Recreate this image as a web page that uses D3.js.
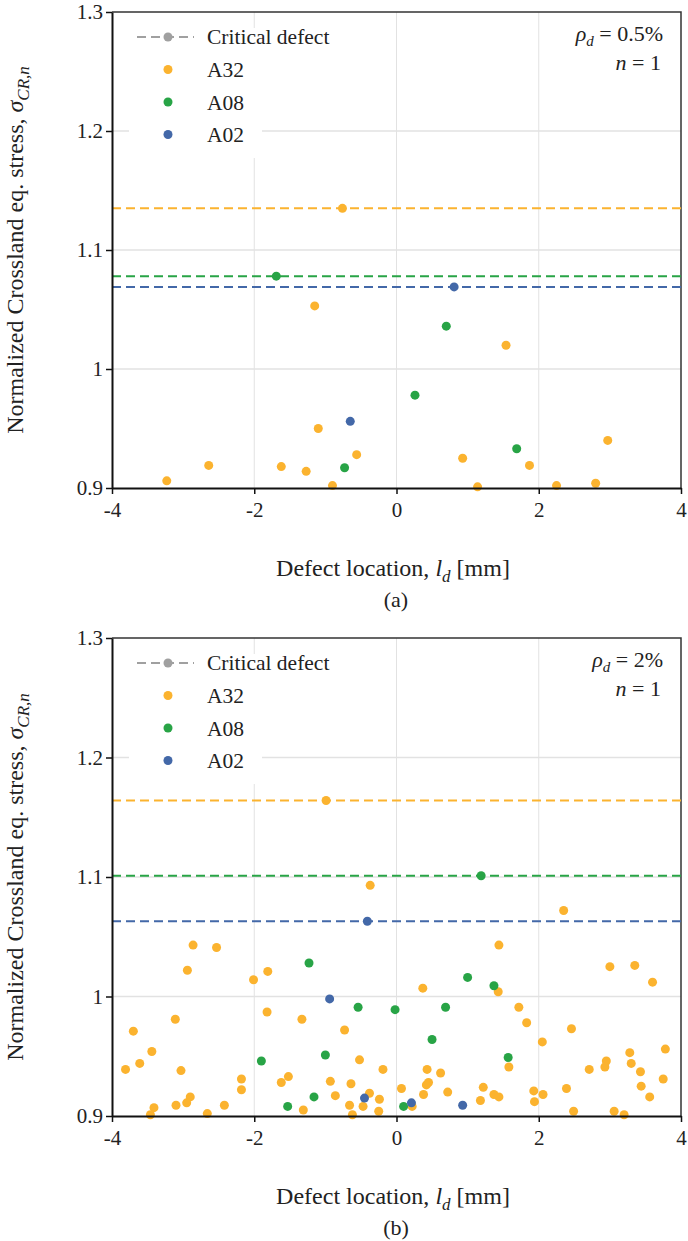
<!DOCTYPE html>
<html>
<head>
<meta charset="utf-8">
<script src="https://cdn.jsdelivr.net/npm/d3@7"></script>
<style>
  body { margin: 0; background: #fff; }
  text { font-family: "Liberation Serif", "Times New Roman", serif; fill: #222; }
</style>
</head>
<body>
<script>
// axis ticks
const xTicks = [-4, -2, 0, 2, 4];
const yTicks = [0.9, 1, 1.1, 1.2, 1.3];
const seriesNames = ["A32", "A08", "A02"];

// panel (a), rho_d = 0.5%
const a_A32 = [[-3.23,0.906],[-2.64,0.919],[-1.62,0.918],[-1.27,0.914],[-1.15,1.053],[-1.10,0.950],
  [-0.90,0.902],[-0.56,0.928],[0.93,0.925],[1.14,0.901],[1.54,1.020],[1.87,0.919],[2.25,0.902],
  [2.80,0.904],[2.97,0.940]];
const a_A08 = [[-0.73,0.917],[0.26,0.978],[0.70,1.036],[1.69,0.933]];
const a_A02 = [[-0.65,0.956]];
const a_critical = [[-0.76,1.135],[-1.69,1.078],[0.81,1.069]]; // A32, A08, A02

// panel (b), rho_d = 2%
const b_A32 = [[-0.37,1.093],[-2.86,1.043],[-2.53,1.041],[-2.94,1.022],[-2.01,1.014],[-1.81,1.021],
  [-1.82,0.987],[-1.33,0.981],[-3.11,0.981],[-3.70,0.971],[-0.73,0.972],[-3.44,0.954],[-0.52,0.947],
  [-3.61,0.944],[-3.81,0.939],[-3.03,0.938],[-0.19,0.939],[-2.18,0.931],[-1.52,0.933],[-1.62,0.928],
  [-0.93,0.929],[-0.64,0.927],[-2.18,0.922],[0.07,0.923],[-0.86,0.917],[-0.38,0.919],[-0.24,0.914],
  [-2.90,0.916],[-2.95,0.911],[-3.10,0.909],[-2.42,0.909],[-3.41,0.907],[-3.46,0.901],[-2.66,0.902],
  [-1.31,0.905],[-0.66,0.909],[-0.62,0.901],[-0.47,0.908],[-0.25,0.904],
  [2.35,1.072],[1.44,1.043],[3.00,1.025],[3.35,1.026],[3.60,1.012],[0.37,1.007],[1.43,1.004],
  [1.72,0.991],[1.83,0.978],[2.46,0.973],[2.05,0.962],[3.78,0.956],[3.28,0.953],[2.95,0.946],
  [3.30,0.944],[2.93,0.941],[1.58,0.941],[0.43,0.939],[2.71,0.939],[0.62,0.936],[3.43,0.937],
  [0.45,0.928],[0.42,0.926],[3.75,0.931],[3.44,0.925],[1.22,0.924],[2.39,0.923],[0.38,0.918],
  [0.72,0.920],[1.37,0.918],[1.44,0.916],[1.93,0.921],[2.06,0.918],[3.56,0.916],[1.94,0.912],
  [1.18,0.913],[0.22,0.908],[2.49,0.904],[3.06,0.904],[3.20,0.901]];
const b_A08 = [[-1.23,1.028],[-0.54,0.991],[-0.02,0.989],[-1.00,0.951],[-1.90,0.946],[-1.16,0.916],
  [-1.53,0.908],[0.10,0.908],[1.00,1.016],[1.37,1.009],[0.69,0.991],[0.50,0.964],[1.57,0.949]];
const b_A02 = [[-0.94,0.998],[-0.45,0.915],[0.21,0.911],[0.93,0.909]];
const b_critical = [[-0.99,1.164],[1.19,1.101],[-0.41,1.063]];

const colors = {A32: "#fbb32f", A08: "#28a446", A02: "#4368a8"};

const svg = d3.select("body").append("svg")
  .attr("width", 688)
  .attr("height", 1241);

function drawPanel(opt) {
  const x = d3.scaleLinear().domain([-4, 4]).range([112, 681]);
  const y = d3.scaleLinear().domain([0.9, 1.3]).range([opt.bottom, opt.top]);
  const g = svg.append("g");

  // gridlines
  g.append("g").selectAll("line").data(xTicks.slice(1, -1)).join("line")
    .attr("x1", d => x(d)).attr("x2", d => x(d))
    .attr("y1", y(0.9)).attr("y2", y(1.3))
    .attr("stroke", "#e2e2e2").attr("stroke-width", 1);
  g.append("g").selectAll("line").data(yTicks.slice(1, -1)).join("line")
    .attr("x1", x(-4)).attr("x2", x(4))
    .attr("y1", d => y(d)).attr("y2", d => y(d))
    .attr("stroke", "#e2e2e2").attr("stroke-width", 1.5);

  // legend backdrop hides gridlines
  g.append("rect")
    .attr("x", 129).attr("y", opt.top + 16)
    .attr("width", 133).attr("height", 130)
    .attr("fill", "#fff");

  // plot frame (top/right)
  g.append("path")
    .attr("d", `M${x(-4)},${y(1.3)}H${x(4)}V${y(0.9)}`)
    .attr("fill", "none").attr("stroke", "#333").attr("stroke-width", 1.5);

  // critical defect lines
  seriesNames.forEach((s, i) => {
    g.append("line")
      .attr("x1", x(-4)).attr("x2", x(4))
      .attr("y1", y(opt.critical[i][1])).attr("y2", y(opt.critical[i][1]))
      .attr("stroke", colors[s]).attr("stroke-width", 2)
      .attr("stroke-dasharray", "9,5");
  });

  // scatter points
  seriesNames.forEach(s => {
    g.append("g").selectAll("circle").data(opt.data[s]).join("circle")
      .attr("cx", d => x(d[0])).attr("cy", d => y(d[1]))
      .attr("r", 4.5).attr("fill", colors[s]);
  });
  g.append("g").selectAll("circle").data(opt.critical).join("circle")
    .attr("cx", d => x(d[0])).attr("cy", d => y(d[1]))
    .attr("r", 4.5).attr("fill", (d, i) => colors[seriesNames[i]]);

  // axes
  const xAxis = g.append("g")
    .attr("transform", `translate(0,${y(0.9)})`)
    .call(d3.axisBottom(x).tickValues(xTicks).tickSize(6).tickSizeOuter(0).tickPadding(8));
  const yAxis = g.append("g")
    .attr("transform", `translate(${x(-4)},0)`)
    .call(d3.axisLeft(y).tickValues(yTicks).tickFormat(d3.format("")).tickSize(6).tickSizeOuter(0).tickPadding(3));
  [xAxis, yAxis].forEach(a => {
    a.select(".domain").attr("stroke", "#111").attr("stroke-width", 2);
    a.selectAll(".tick line").attr("stroke", "#111").attr("stroke-width", 1.5);
    a.selectAll(".tick text").attr("font-size", 21).attr("fill", "#222");
  });
  xAxis.selectAll(".tick text").text(d => d < 0 ? "-" + Math.abs(d) : d);

  // x title
  const xt = g.append("text")
    .attr("x", 393).attr("y", y(0.9) + 88)
    .attr("text-anchor", "middle").attr("font-size", 24);
  xt.append("tspan").text("Defect location, ");
  xt.append("tspan").attr("font-style", "italic").text("l");
  xt.append("tspan").attr("font-style", "italic").attr("font-size", 17).attr("dy", 6).text("d");
  xt.append("tspan").attr("dy", -6).text(" [mm]");

  // caption
  g.append("text")
    .attr("x", 396).attr("y", y(0.9) + 119)
    .attr("text-anchor", "middle").attr("font-size", 22)
    .text(opt.caption);

  // y title
  const yc = (opt.top + opt.bottom) / 2;
  const yt = g.append("text")
    .attr("transform", `translate(23,${yc}) rotate(-90)`)
    .attr("text-anchor", "middle").attr("font-size", 24);
  yt.append("tspan").text("Normalized Crossland eq. stress, ");
  yt.append("tspan").attr("font-style", "italic").text("σ");
  yt.append("tspan").attr("font-style", "italic").attr("font-size", 17).attr("dy", 6).text("CR,n");

  // annotation
  const an = g.append("text")
    .attr("x", 663).attr("y", opt.top + 29)
    .attr("text-anchor", "end").attr("font-size", 22);
  an.append("tspan").attr("font-style", "italic").text("ρ");
  an.append("tspan").attr("font-style", "italic").attr("font-size", 15).attr("dy", 5).text("d");
  an.append("tspan").attr("dy", -5).text(" = " + opt.rho);
  g.append("text")
    .attr("x", 661).attr("y", opt.top + 58)
    .attr("text-anchor", "end").attr("font-size", 22)
    .call(t => {
      t.append("tspan").attr("font-style", "italic").text("n");
      t.append("tspan").text(" = 1");
    });

  // legend
  const lg = g.append("g").attr("transform", `translate(0,${opt.top})`);
  lg.append("line").attr("x1", 137).attr("x2", 194).attr("y1", 25).attr("y2", 25)
    .attr("stroke", "#a0a0a0").attr("stroke-width", 2).attr("stroke-dasharray", "9,5");
  lg.append("circle").attr("cx", 168).attr("cy", 25).attr("r", 4.5).attr("fill", "#a0a0a0");
  lg.append("text").attr("x", 207).attr("y", 32).attr("font-size", 21.5).text("Critical defect");
  seriesNames.forEach((s, i) => {
    const yy = 25 + 32.5 * (i + 1);
    lg.append("circle").attr("cx", 168).attr("cy", yy).attr("r", 4.5).attr("fill", colors[s]);
    lg.append("text").attr("x", 207).attr("y", yy + 7.5).attr("font-size", 21.5).text(s);
  });
}

drawPanel({top: 12, bottom: 488, caption: "(a)", rho: "0.5%",
  data: {A32: a_A32, A08: a_A08, A02: a_A02}, critical: a_critical});
drawPanel({top: 638, bottom: 1116, caption: "(b)", rho: "2%",
  data: {A32: b_A32, A08: b_A08, A02: b_A02}, critical: b_critical});
</script>
</body>
</html>
